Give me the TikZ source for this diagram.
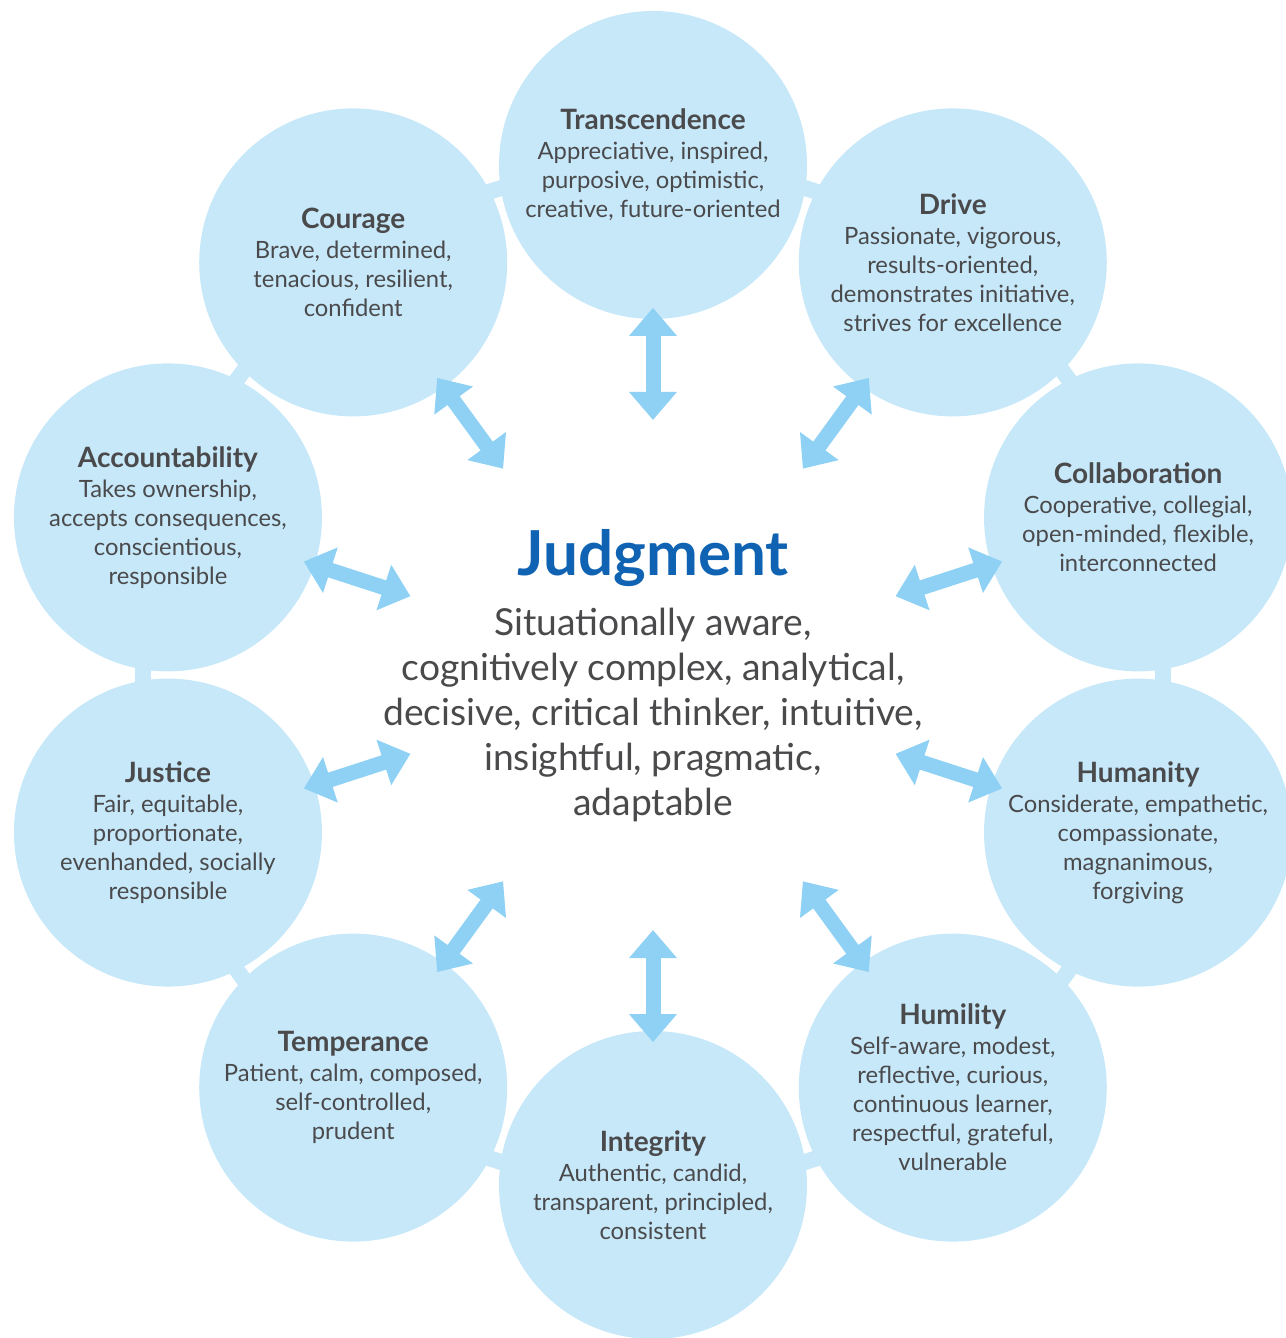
\documentclass[tikz,border=0pt]{standalone}
\usepackage{fontspec}
\setmainfont{Lato}
\usepackage{xcolor}
\usepackage{tikz}
\usetikzlibrary{arrows.meta,calc}
\definecolor{ink}{HTML}{4A4A4C}
\definecolor{bubble}{HTML}{C6E8F9}
\definecolor{sky}{HTML}{8ED1F4}
\definecolor{navy}{HTML}{1063B2}
\newcommand{\vhead}[1]{{\fontsize{14}{15}\selectfont\bfseries #1}}

\begin{document}
\begin{tikzpicture}[
  x=0.5pt,y=0.5pt,
  virtue/.style={circle,fill=bubble,minimum size=154pt,inner sep=0pt,align=center,text=ink,font=\fontsize{11.9}{14.5}\selectfont},
  twoway/.style={{Triangle[width=23pt,length=14pt]}-{Triangle[width=23pt,length=14pt]},line width=7.5pt,draw=sky}
]
\useasboundingbox (-653,-663) rectangle (632,675);
\coordinate (hub) at (0,0);
\draw[bubble,line width=8pt] (hub) circle (510);
\node[virtue] (trans) at (90:510) {\vhead{Transcendence}\\[0.5pt]Appreciative, inspired,\\purposive, optimistic,\\creative, future-oriented};
\node[virtue] (drive) at (54:510) {\vhead{Drive}\\[0.5pt]Passionate, vigorous,\\results-oriented,\\demonstrates initiative,\\strives for excellence};
\node[virtue] (collab) at (18:510) {\vhead{Collaboration}\\[0.5pt]Cooperative, collegial,\\open-minded, flexible,\\interconnected};
\node[virtue] (humanity) at (-18:510) {\vhead{Humanity}\\[0.5pt]Considerate, empathetic,\\compassionate,\\magnanimous,\\forgiving};
\node[virtue] (humility) at (-54:510) {\vhead{Humility}\\[0.5pt]Self-aware, modest,\\reflective, curious,\\continuous learner,\\respectful, grateful,\\vulnerable};
\node[virtue] (integrity) at (-90:510) {\vhead{Integrity}\\[0.5pt]Authentic, candid,\\transparent, principled,\\consistent};
\node[virtue] (temper) at (-126:510) {\vhead{Temperance}\\[0.5pt]Patient, calm, composed,\\self-controlled,\\prudent};
\node[virtue] (justice) at (-162:510) {\vhead{Justice}\\[0.5pt]Fair, equitable,\\proportionate,\\evenhanded, socially\\responsible};
\node[virtue] (account) at (162:510) {\vhead{Accountability}\\[0.5pt]Takes ownership,\\accepts consequences,\\conscientious,\\responsible};
\node[virtue] (courage) at (126:510) {\vhead{Courage}\\[0.5pt]Brave, determined,\\tenacious, resilient,\\confident};
% centre
\node[text=navy,font=\fontsize{31}{34}\selectfont\bfseries] (judg) at (0,117) {Judgment};
\node[text=ink,align=center,font=\fontsize{18.6}{22.5}\selectfont] (traits) at (0,-40) {Situationally aware,\\cognitively complex, analytical,\\decisive, critical thinker, intuitive,\\insightful, pragmatic,\\adaptable};
% arrows
\draw[twoway] ($(hub)!0.5!(trans)$) -- ($(hub)!0.72!(trans)$);
\draw[twoway] ($(hub)!0.5!(drive)$) -- ($(hub)!0.72!(drive)$);
\draw[twoway] ($(hub)!0.5!(collab)$) -- ($(hub)!0.72!(collab)$);
\draw[twoway] ($(hub)!0.5!(humanity)$) -- ($(hub)!0.72!(humanity)$);
\draw[twoway] ($(hub)!0.5!(humility)$) -- ($(hub)!0.72!(humility)$);
\draw[twoway] ($(hub)!0.5!(integrity)$) -- ($(hub)!0.72!(integrity)$);
\draw[twoway] ($(hub)!0.5!(temper)$) -- ($(hub)!0.72!(temper)$);
\draw[twoway] ($(hub)!0.5!(justice)$) -- ($(hub)!0.72!(justice)$);
\draw[twoway] ($(hub)!0.5!(account)$) -- ($(hub)!0.72!(account)$);
\draw[twoway] ($(hub)!0.5!(courage)$) -- ($(hub)!0.72!(courage)$);
\end{tikzpicture}
\end{document}
